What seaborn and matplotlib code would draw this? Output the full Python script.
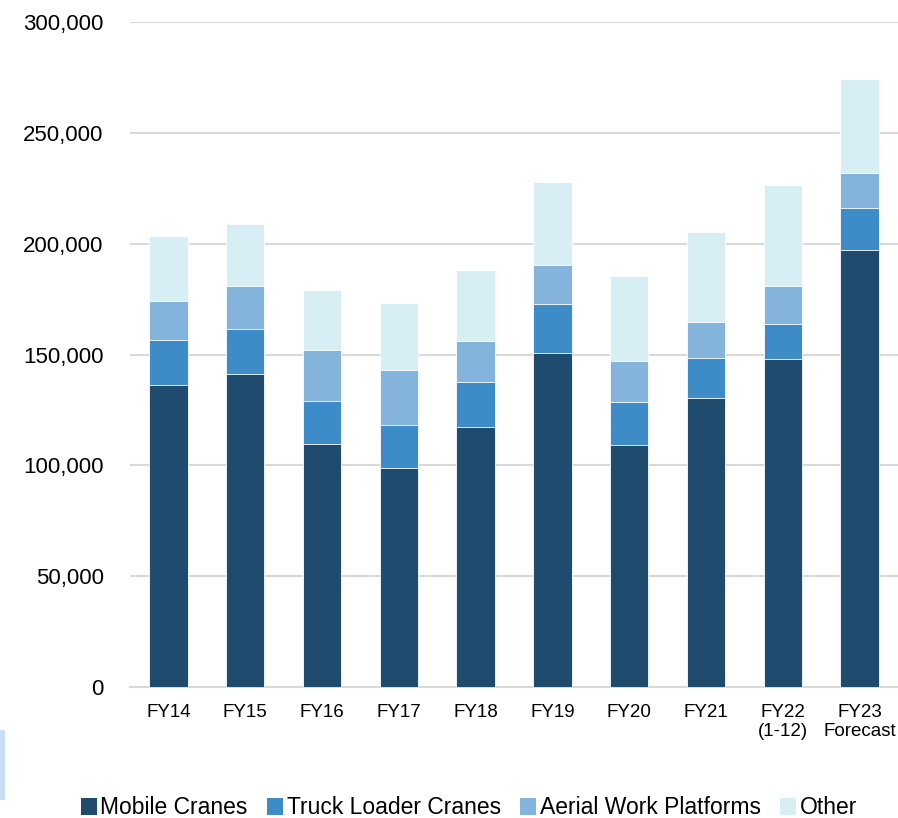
import matplotlib
matplotlib.use("Agg")
import matplotlib.pyplot as plt
import seaborn as sns
import numpy as np
import pandas as pd
from matplotlib.patches import Patch, Rectangle
from matplotlib.ticker import FuncFormatter, MultipleLocator

categories = ["FY14", "FY15", "FY16", "FY17", "FY18", "FY19", "FY20", "FY21",
              "FY22\n(1-12)", "FY23\nForecast"]
mobile_cranes = [136100, 141300, 109500, 98900, 117300, 150500, 109300, 130200, 148100, 197100]
truck_loader_cranes = [20600, 20300, 19500, 19400, 20400, 22100, 19300, 18400, 15800, 19100]
aerial_work_platforms = [17600, 19300, 23000, 24700, 18400, 17900, 18600, 15900, 17100, 15800]
other = [29300, 28100, 27200, 30200, 32000, 37200, 38400, 40800, 45300, 42400]

series_names = ["Mobile Cranes", "Truck Loader Cranes", "Aerial Work Platforms", "Other"]
series_values = [mobile_cranes, truck_loader_cranes, aerial_work_platforms, other]
colors = ["#1F4B6E", "#3D8BC7", "#84B3DB", "#D7EEF4"]

sns.set_theme(style="white")
plt.rcParams["font.family"] = ["Liberation Sans", "DejaVu Sans"]
plt.rcParams["text.color"] = "black"

fig = plt.figure(figsize=(8.98, 8.18), dpi=100)
ax = fig.add_axes([130 / 898, 1 - 687 / 818, 768 / 898, (687 - 22) / 818])

df = pd.DataFrame({"category": categories})
cum = np.zeros(len(categories))
cums = []
for vals in series_values:
    cum = cum + np.array(vals)
    cums.append(cum.copy())

# draw from the top (total) down so each layer covers the one below
for name, c, color in reversed(list(zip(series_names, cums, colors))):
    d = df.copy()
    d["value"] = c
    sns.barplot(data=d, x="category", y="value", color=color, width=0.5,
                edgecolor="white", linewidth=0.6, ax=ax, saturation=1, zorder=3)

ax.set_xlim(-0.5, len(categories) - 0.5)
ax.set_ylim(0, 300000)
ax.yaxis.set_major_locator(MultipleLocator(50000))
ax.yaxis.set_major_formatter(FuncFormatter(lambda v, p: f"{int(v):,}"))
ax.grid(axis="y", color="#D9D9D9", linewidth=1.5, zorder=0)
ax.grid(axis="x", visible=False)
ax.set_axisbelow(True)
for s in ["top", "right", "left"]:
    ax.spines[s].set_visible(False)
ax.spines["bottom"].set_color("#D9D9D9")
ax.spines["bottom"].set_linewidth(1.5)
ax.set_xlabel("")
ax.set_ylabel("")
ax.tick_params(axis="y", length=0, pad=19, labelsize=16, labelcolor="black")
ax.tick_params(axis="x", length=0, pad=12, labelcolor="black")
for lbl in ax.get_xticklabels():
    lbl.set_fontsize(13.5)
    lbl.set_linespacing(1.15)

handles = [Patch(facecolor=col, edgecolor="none") for col in colors]
leg = fig.legend(handles, series_names, loc="center", bbox_to_anchor=(469 / 898, 1 - 808 / 818),
                 ncol=4, frameon=False, handlelength=0.7, handleheight=0.7,
                 handletextpad=0.15, columnspacing=0.85, labelcolor="black",
                 prop={"family": ["Liberation Sans", "DejaVu Sans"], "size": 16.5})

fig.patches.append(Rectangle((0, 1 - 800 / 818), 5 / 898, 70 / 818,
                             transform=fig.transFigure, facecolor="#C9E0F4",
                             edgecolor="none"))

fig.savefig("out.png", dpi=100)
